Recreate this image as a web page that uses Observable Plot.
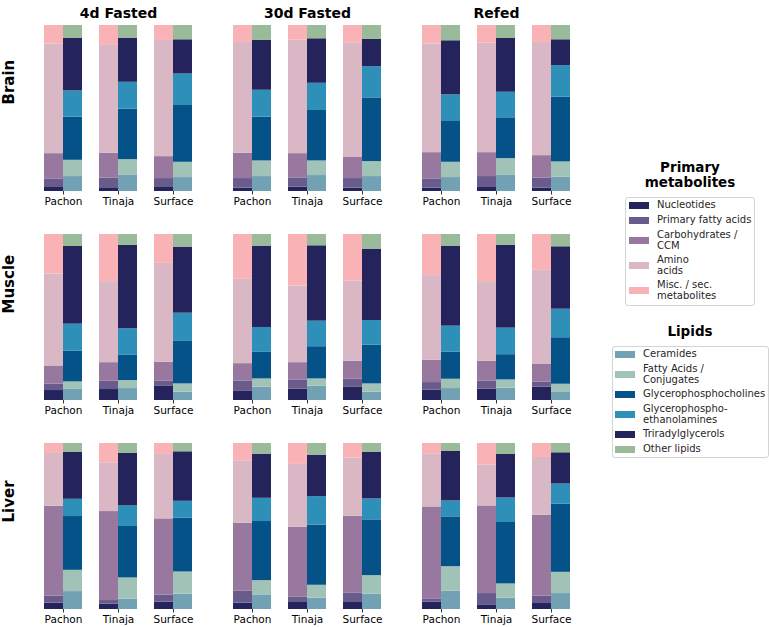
<!DOCTYPE html>
<html>
<head>
<meta charset="utf-8">
<script src="https://cdn.jsdelivr.net/npm/d3@7"></script>
<script src="https://cdn.jsdelivr.net/npm/@observablehq/plot@0.6"></script>
<style>
  body { margin: 0; background: #fff; font-family: "DejaVu Sans", sans-serif; }
  #wrap { position: relative; width: 769px; height: 627px; overflow: hidden; }
  .ltitle { position: absolute; font: bold 13.5px "DejaVu Sans"; line-height: 15px; text-align: center; color: #000; }
  .lbox { position: absolute; box-sizing: border-box; border: 1px solid #d4d4d4; border-radius: 3px; background: #fff; }
  .lrow { display: flex; align-items: center; }
  .sw { flex: none; width: 20px; height: 7px; margin-right: 8px; }
  .lt { font: 10px "DejaVu Sans"; line-height: 10.5px; color: #262626; white-space: pre-line; }
</style>
</head>
<body>
<div id="wrap"></div>
<script>
const tissues = ["Brain", "Muscle", "Liver"];
const conditions = ["4d Fasted", "30d Fasted", "Refed"];
const populations = ["Pachon", "Tinaja", "Surface"];

const primaryCategories = ["Nucleotides", "Primary fatty acids", "Carbohydrates / CCM", "Amino acids", "Misc. / sec. metabolites"];
const primaryLabels = ["Nucleotides", "Primary fatty acids", "Carbohydrates /\nCCM", "Amino\nacids", "Misc. / sec.\nmetabolites"];
const primaryColors = ["#24235b", "#6a5b8d", "#98789e", "#d9b7c4", "#f9b3b7"];

const lipidCategories = ["Ceramides", "Fatty Acids / Conjugates", "Glycerophosphocholines", "Glycerophosphoethanolamines", "Triradylglycerols", "Other lipids"];
const lipidLabels = ["Ceramides", "Fatty Acids /\nConjugates", "Glycerophosphocholines", "Glycerophospho-\nethanolamines", "Triradylglycerols", "Other lipids"];
const lipidColors = ["#73a1b4", "#a1c3b7", "#045287", "#2e8fb8", "#24235b", "#99bb99"];

// rows: 4d (Pachon, Tinaja, Surface), 30d (...), Refed (...); values in % bottom-up
const primaryBrain = [
  [2.4, 5.2, 15.2, 66.0, 11.2], [1.8, 6.2, 15.0, 65.0, 12.0], [2.4, 5.4, 13.2, 70.0, 9.0],
  [2.0, 5.8, 15.2, 66.8, 10.2], [2.6, 5.6, 14.6, 68.4, 8.8], [2.0, 5.8, 13.0, 68.8, 10.4],
  [2.0, 5.6, 15.8, 65.4, 11.2], [2.4, 6.6, 14.4, 66.0, 10.6], [2.0, 6.0, 13.6, 68.2, 10.2]
];
const lipidBrain = [
  [9.0, 9.8, 26.0, 15.8, 31.8, 7.6], [10.0, 9.2, 30.4, 16.2, 26.6, 7.6], [8.4, 9.2, 34.2, 19.0, 20.6, 8.6],
  [9.0, 9.4, 26.4, 16.2, 30.0, 9.0], [9.6, 8.8, 30.4, 16.4, 26.8, 8.0], [9.0, 9.0, 38.4, 18.8, 16.4, 8.4],
  [8.4, 9.2, 25.0, 15.6, 32.6, 9.2], [10.0, 9.8, 24.6, 15.4, 32.4, 7.8], [8.6, 9.2, 39.0, 19.0, 15.6, 8.6]
];
const primaryMuscle = [
  [6.0, 3.8, 11.0, 55.4, 23.8], [6.6, 5.0, 11.2, 48.8, 28.4], [8.8, 2.8, 11.4, 59.6, 17.4],
  [5.8, 6.0, 10.4, 50.8, 27.0], [6.8, 5.6, 10.4, 46.2, 31.0], [8.2, 4.8, 10.6, 48.4, 28.0],
  [6.2, 4.6, 13.4, 51.0, 24.8], [6.8, 4.8, 12.0, 48.0, 28.4], [8.0, 3.0, 11.0, 56.4, 21.6]
];
const lipidMuscle = [
  [7.0, 4.2, 18.6, 16.2, 46.8, 7.2], [7.2, 4.8, 15.2, 16.0, 50.2, 6.6], [5.0, 5.0, 25.6, 17.0, 39.8, 7.6],
  [8.0, 5.0, 16.0, 15.0, 49.0, 7.0], [8.6, 4.4, 19.4, 15.4, 45.4, 6.8], [5.0, 5.0, 23.4, 14.8, 43.0, 8.8],
  [7.2, 5.6, 16.4, 15.6, 48.2, 7.0], [7.4, 5.0, 15.2, 16.0, 49.8, 6.6], [5.2, 4.6, 28.0, 17.2, 37.6, 7.4]
];
const primaryLiver = [
  [3.8, 4.2, 54.2, 31.8, 6.0], [3.2, 2.2, 53.6, 29.4, 11.6], [4.4, 4.2, 46.0, 38.8, 6.6],
  [3.8, 7.4, 40.8, 37.6, 10.4], [4.2, 3.4, 42.0, 37.8, 12.6], [4.2, 5.8, 46.2, 35.0, 8.8],
  [4.4, 2.0, 55.4, 32.0, 6.2], [2.8, 6.8, 52.8, 24.6, 13.0], [3.6, 4.4, 48.8, 34.8, 8.4]
];
const lipidLiver = [
  [10.8, 12.8, 32.4, 10.4, 28.4, 5.2], [6.2, 12.8, 31.0, 12.4, 31.6, 6.0], [9.2, 13.4, 32.4, 10.2, 29.8, 5.0],
  [8.8, 8.6, 35.6, 14.0, 26.6, 6.4], [6.8, 7.8, 36.2, 17.2, 25.0, 7.0], [9.2, 11.2, 33.6, 12.6, 28.2, 5.2],
  [11.0, 14.8, 30.0, 9.6, 29.8, 4.8], [6.8, 8.6, 37.0, 14.8, 26.2, 6.6], [9.6, 12.8, 41.0, 12.2, 18.8, 5.6]
];

function buildRows(tables, cats) {
  const rows = [];
  tissues.forEach((t, ti) => conditions.forEach((c, ci) => populations.forEach((p, pi) => {
    const vals = tables[ti][ci * 3 + pi];
    cats.forEach((cat, k) => rows.push({tissue: t, condition: c, population: p, category: cat, value: vals[k]}));
  })));
  return rows;
}
const primaryRows = buildRows([primaryBrain, primaryMuscle, primaryLiver], primaryCategories);
const lipidRows = buildRows([lipidBrain, lipidMuscle, lipidLiver], lipidCategories);

const font = "DejaVu Sans";
const chart = Plot.plot({
  width: 769,
  height: 627,
  marginLeft: 43,
  marginRight: 199,
  marginTop: 24,
  marginBottom: 17,
  style: {fontFamily: font, fontSize: "10.5px", background: "transparent", color: "#000"},
  fx: {domain: conditions, paddingInner: 41.5 / 189.5, paddingOuter: 0, axis: null},
  fy: {domain: tissues, paddingInner: 0.2065, paddingOuter: 0, axis: null},
  x: {domain: populations, paddingInner: 17 / 55, paddingOuter: 0, axis: null},
  y: {domain: [0, 1], axis: null},
  color: {domain: [...primaryCategories, ...lipidCategories], range: [...primaryColors, ...lipidColors]},
  marks: [
    Plot.barY(primaryRows, Plot.stackY({
      fx: "condition", fy: "tissue", x: "population", y: "value", fill: "category",
      offset: "normalize", insetRight: 19
    })),
    Plot.barY(lipidRows, Plot.stackY({
      fx: "condition", fy: "tissue", x: "population", y: "value", fill: "category",
      offset: "normalize", insetLeft: 19
    })),
    Plot.axisX({facetAnchor: null, label: null, tickSize: 3.5, tickPadding: 3, fontSize: 10.5, stroke: "#333"}),
    Plot.text(conditions, {
      fx: d => d, fy: () => "Brain", text: d => d, frameAnchor: "top", dy: -17,
      fontSize: 14, fontWeight: "bold", fontFamily: font, fill: "#000"
    }),
    Plot.text(tissues, {
      fy: d => d, fx: () => "4d Fasted", text: d => d, frameAnchor: "left", dx: -35.5, dy: -4,
      rotate: -90, fontSize: 15, fontWeight: "bold", fontFamily: font, fill: "#000"
    })
  ]
});
const wrap = document.getElementById("wrap");
wrap.appendChild(chart);

function legend(title, titleTop, boxLeft, boxTop, boxWidth, boxHeight, padTop, padLeft, cats, labels, colors) {
  const t = document.createElement("div");
  t.className = "ltitle";
  t.style.left = "600px"; t.style.width = "180px"; t.style.top = titleTop + "px";
  t.innerHTML = title;
  wrap.appendChild(t);
  const box = document.createElement("div");
  box.className = "lbox";
  Object.assign(box.style, {left: boxLeft + "px", top: boxTop + "px", width: boxWidth + "px", height: boxHeight + "px", paddingTop: padTop + "px", paddingLeft: padLeft + "px"});
  cats.forEach((c, i) => {
    const row = document.createElement("div");
    row.className = "lrow";
    row.style.height = (labels[i].includes("\n") ? 25 : 15) + "px";
    const sw = document.createElement("div");
    sw.className = "sw"; sw.style.background = colors[i];
    const lt = document.createElement("div");
    lt.className = "lt"; lt.textContent = labels[i];
    row.appendChild(sw); row.appendChild(lt);
    box.appendChild(row);
  });
  wrap.appendChild(box);
}
legend("Primary<br>metabolites", 160, 625, 197, 130, 109, 0, 3, primaryCategories, primaryLabels, primaryColors);
legend("Lipids", 324, 612, 346, 157, 112, 0, 2, lipidCategories, lipidLabels, lipidColors);
</script>
</body>
</html>
